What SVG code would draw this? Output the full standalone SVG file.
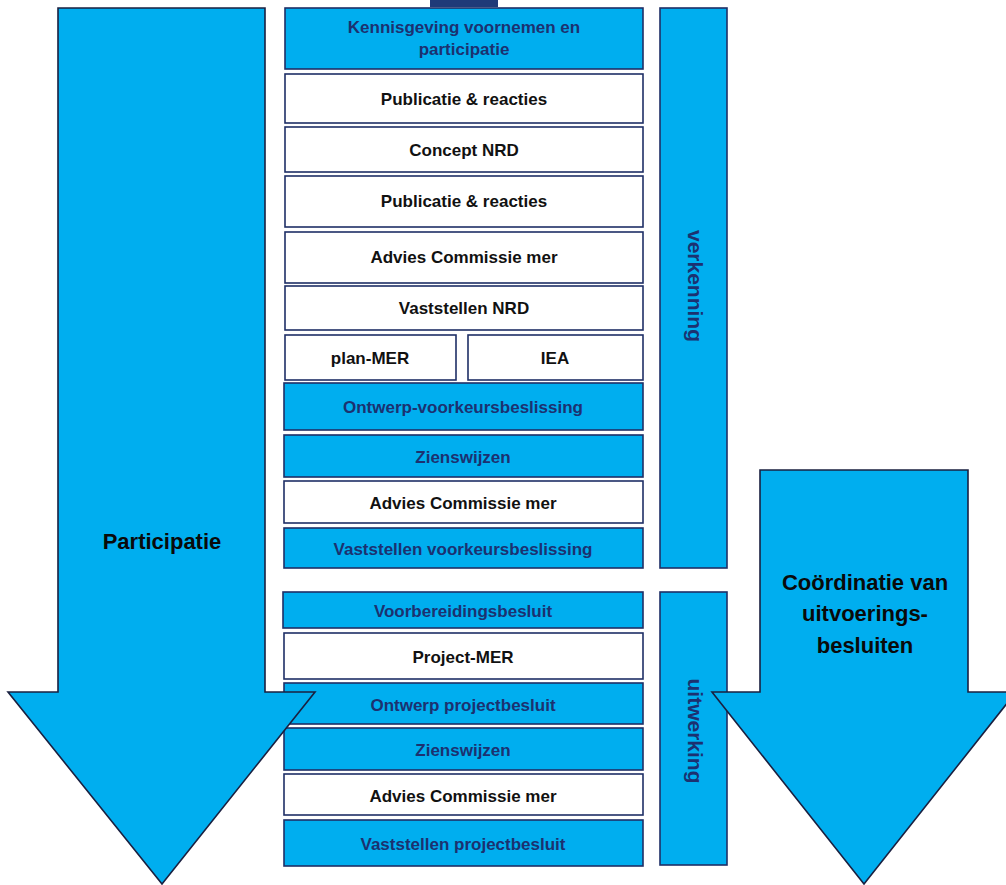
<svg xmlns="http://www.w3.org/2000/svg" width="1006" height="885" viewBox="0 0 1006 885">
<style>
.b{fill:#00aeef;stroke:#1f2f66;stroke-width:1.6}
.w{fill:#ffffff;stroke:#1f2f66;stroke-width:1.6}
.arr{fill:#00aeef;stroke:#1a2040;stroke-width:1.6;stroke-linejoin:miter}
text{font-family:"Liberation Sans",Arial,sans-serif;font-weight:bold;text-anchor:middle}
.tb{fill:#1c3170;font-size:17px}
.tw{fill:#111111;font-size:17px}
.big{fill:#0a0a0a;font-size:22px}
.side{fill:#1c3170;font-size:21px}
</style>
<rect width="1006" height="885" fill="#ffffff"/>
<rect x="430" y="0" width="68" height="7" fill="#1f3a78"/>
<g id="verkenning"><rect class="b" x="660" y="8" width="67" height="560"/><text class="side" transform="translate(688,286) rotate(90)">verkenning</text></g>
<g id="uitwerking"><rect class="b" x="660" y="592" width="67" height="273"/><text class="side" transform="translate(688,731) rotate(90)">uitwerking</text></g>
<g id="n1"><rect class="b" x="285" y="8" width="358" height="61"/><text class="tb" x="464" y="33">Kennisgeving voornemen en</text><text class="tb" x="464" y="55">participatie</text></g>
<g id="n2"><rect class="w" x="285" y="74" width="358" height="49"/><text class="tw" x="464" y="105">Publicatie &amp; reacties</text></g>
<g id="n3"><rect class="w" x="285" y="127" width="358" height="45"/><text class="tw" x="464" y="156">Concept NRD</text></g>
<g id="n4"><rect class="w" x="285" y="176" width="358" height="51"/><text class="tw" x="464" y="207">Publicatie &amp; reacties</text></g>
<g id="n5"><rect class="w" x="285" y="232" width="358" height="51"/><text class="tw" x="464" y="263">Advies Commissie mer</text></g>
<g id="n6"><rect class="w" x="285" y="286" width="358" height="44"/><text class="tw" x="464" y="314">Vaststellen NRD</text></g>
<g id="n7a"><rect class="w" x="285" y="335" width="171" height="45"/><text class="tw" x="370" y="364">plan-MER</text></g>
<g id="n7b"><rect class="w" x="468" y="335" width="175" height="45"/><text class="tw" x="555" y="364">IEA</text></g>
<g id="n8"><rect class="b" x="284" y="383" width="359" height="47"/><text class="tb" x="463" y="413">Ontwerp-voorkeursbeslissing</text></g>
<g id="n9"><rect class="b" x="284" y="435" width="359" height="42"/><text class="tb" x="463" y="463">Zienswijzen</text></g>
<g id="n10"><rect class="w" x="284" y="481" width="359" height="42"/><text class="tw" x="463" y="509">Advies Commissie mer</text></g>
<g id="n11"><rect class="b" x="284" y="528" width="359" height="40"/><text class="tb" x="463" y="555">Vaststellen voorkeursbeslissing</text></g>
<g id="n12"><rect class="b" x="283" y="592" width="360" height="36"/><text class="tb" x="463" y="617">Voorbereidingsbesluit</text></g>
<g id="n13"><rect class="w" x="284" y="633" width="359" height="46"/><text class="tw" x="463" y="663">Project-MER</text></g>
<g id="n14"><rect class="b" x="284" y="683" width="359" height="41"/><text class="tb" x="463" y="711">Ontwerp projectbesluit</text></g>
<g id="n15"><rect class="b" x="284" y="728" width="359" height="42"/><text class="tb" x="463" y="756">Zienswijzen</text></g>
<g id="n16"><rect class="w" x="284" y="774" width="359" height="41"/><text class="tw" x="463" y="802">Advies Commissie mer</text></g>
<g id="n17"><rect class="b" x="284" y="820" width="359" height="46"/><text class="tb" x="463" y="850">Vaststellen projectbesluit</text></g>
<g id="participatie"><polygon class="arr" points="58,8 265,8 265,692 315,692 162,884 8,692 58,692"/><text class="big" x="162" y="549">Participatie</text></g>
<g id="coordinatie"><polygon class="arr" points="760,470 968,470 968,692 1016,692 864,884 712,692 760,692"/><text class="big" x="865" y="590">Coördinatie van</text><text class="big" x="865" y="621">uitvoerings-</text><text class="big" x="865" y="653">besluiten</text></g>
<g id="connectors"></g>
</svg>
